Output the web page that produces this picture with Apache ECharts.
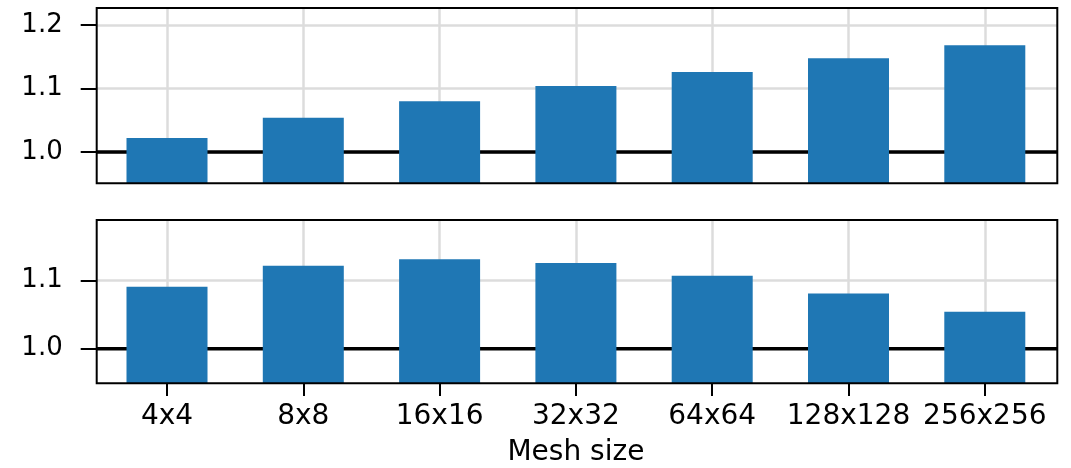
<!DOCTYPE html>
<html>
<head>
<meta charset="utf-8">
<script src="https://cdn.jsdelivr.net/npm/echarts@6/dist/echarts.min.js"></script>
<style>
html,body{margin:0;padding:0;background:#fff;}
#chart{width:1071px;height:468px;}
</style>
</head>
<body>
<div id="chart"></div>
<script>
// ---- data ----
var categories = ['4x4', '8x8', '16x16', '32x32', '64x64', '128x128', '256x256'];
var topValues = [1.022, 1.054, 1.080, 1.104, 1.126, 1.1475, 1.168];
var bottomValues = [1.091, 1.122, 1.1315, 1.126, 1.107, 1.081, 1.054];
var topTicks = [1.0, 1.1, 1.2];
var bottomTicks = [1.0, 1.1];
var topRange = [0.9507, 1.2268];
var bottomRange = [0.9491, 1.1893];
var refValue = 1.0;
var xAxisTitle = 'Mesh size';

// ---- styles ----
var FONT = 'DejaVu Sans';
var FSY = 26;
var FSX = 28;
var BAR = '#1f77b4';
var GRIDC = '#dcdcdc';

var frameLeft = 96.7, frameWidth = 960.6;
var dataLeft = 98.85, dataWidth = 954.1;
var topY = 8, topH = 175.3;
var botY = 220, botH = 163.3;

function frameGrid(top, h) {
  return {left: frameLeft, top: top, width: frameWidth, height: h, show: true,
    borderColor: '#000', borderWidth: 2, backgroundColor: 'transparent', z: 10, containLabel: false};
}
function dataGrid(top, h) {
  return {left: dataLeft, top: top, width: dataWidth, height: h, show: false, containLabel: false};
}
function frameY(gi, range, ticks) {
  return {type: 'value', gridIndex: gi, min: range[0], max: range[1], splitNumber: 3,
    axisLine: {show: false},
    axisTick: {show: true, inside: false, length: 16, customValues: ticks, lineStyle: {color: '#000', width: 2}},
    axisLabel: {show: true, customValues: ticks, margin: 34, fontFamily: FONT, fontSize: FSY, color: '#000',
      formatter: function (v) { return Number(v).toFixed(1); }},
    splitLine: {show: true, customValues: ticks, lineStyle: {color: GRIDC, width: 2.5}}
  };
}
function dataY(gi, range) {
  return {type: 'value', gridIndex: gi, min: range[0], max: range[1], show: false, splitLine: {show: false}};
}
function frameX(gi) {
  return {type: 'value', gridIndex: gi, min: 0, max: 1, show: false, splitLine: {show: false}};
}
function dataX(gi, showLabels) {
  return {type: 'category', gridIndex: gi, data: categories, boundaryGap: true,
    axisLine: {show: false},
    axisTick: {show: showLabels, alignWithLabel: true, length: 13, lineStyle: {color: '#000', width: 2}},
    axisLabel: {show: showLabels, interval: 0, margin: 20, fontFamily: FONT, fontSize: FSX, color: '#000'},
    splitLine: {show: true, alignWithLabel: true, interval: 0, lineStyle: {color: GRIDC, width: 2.5}},
    name: showLabels ? xAxisTitle : '', nameLocation: 'middle', nameGap: 56,
    nameTextStyle: {fontFamily: FONT, fontSize: FSX, color: '#000'}
  };
}

var chart = echarts.init(document.getElementById('chart'), null, {renderer: 'canvas'});
chart.setOption({
  animation: false,
  backgroundColor: '#fff',
  grid: [frameGrid(topY, topH), dataGrid(topY, topH), frameGrid(botY, botH), dataGrid(botY, botH)],
  xAxis: [frameX(0), dataX(1, false), frameX(2), dataX(3, true)],
  yAxis: [frameY(0, topRange, topTicks), dataY(1, topRange), frameY(2, bottomRange, bottomTicks), dataY(3, bottomRange)],
  series: [
    {type: 'line', xAxisIndex: 0, yAxisIndex: 0, data: [[0, refValue], [1, refValue]], symbol: 'none',
      lineStyle: {color: '#000', width: 3.5}, z: 1, silent: true},
    {type: 'line', xAxisIndex: 2, yAxisIndex: 2, data: [[0, refValue], [1, refValue]], symbol: 'none',
      lineStyle: {color: '#000', width: 3.5}, z: 1, silent: true},
    {type: 'bar', xAxisIndex: 1, yAxisIndex: 1, data: topValues, barWidth: 81,
      itemStyle: {color: BAR}, z: 2},
    {type: 'bar', xAxisIndex: 3, yAxisIndex: 3, data: bottomValues, barWidth: 81,
      itemStyle: {color: BAR}, z: 2}
  ]
});
</script>
</body>
</html>
